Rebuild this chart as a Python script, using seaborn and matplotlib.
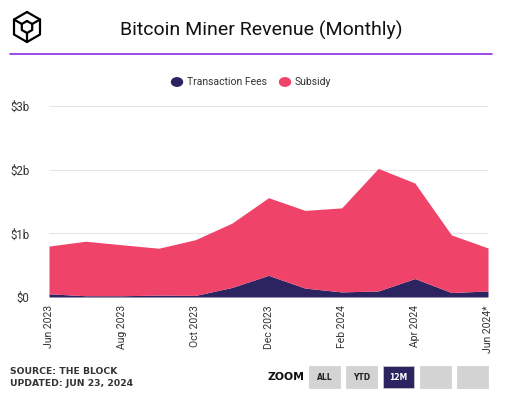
import numpy as np
import pandas as pd
import matplotlib.pyplot as plt
import seaborn as sns
from matplotlib.patches import Rectangle, Circle
from matplotlib.lines import Line2D

months = ["Jun 2023", "Jul 2023", "Aug 2023", "Sep 2023", "Oct 2023", "Nov 2023",
          "Dec 2023", "Jan 2024", "Feb 2024", "Mar 2024", "Apr 2024", "May 2024",
          "Jun 2024*"]
# billions USD
fees = [0.05, 0.02, 0.02, 0.03, 0.025, 0.15, 0.34, 0.14, 0.08, 0.095, 0.29, 0.07, 0.095]
total = [0.80, 0.876, 0.82, 0.766, 0.90, 1.16, 1.56, 1.36, 1.40, 2.02, 1.79, 0.975, 0.77]
subsidy = [t - f for t, f in zip(total, fees)]
tick_months = ["Jun 2023", "Aug 2023", "Oct 2023", "Dec 2023", "Feb 2024", "Apr 2024", "Jun 2024*"]
yticks = [0, 1, 2, 3]
ylabels = ["$0", "$1b", "$2b", "$3b"]

df = pd.DataFrame({"month": months, "Transaction Fees": fees, "Subsidy": subsidy})
df["x"] = np.arange(len(df))

FEES_C = "#2b2460"
SUB_C = "#f0436a"
TXT = "#333333"

sns.set_theme(style="white")
plt.rcParams["font.family"] = ["Roboto", "DejaVu Sans"]

W, H = 514, 394
fig = plt.figure(figsize=(W / 100, H / 100), dpi=100)
ax = fig.add_axes([49 / W, 1 - 297 / H, (488 - 49) / W, (297 - 106) / H])

ax.stackplot(df["x"], df["Transaction Fees"], df["Subsidy"],
             colors=[FEES_C, SUB_C], linewidth=0, zorder=2)
ax.set_xlim(0, len(df) - 1)
ax.set_ylim(0, 3)
ax.set_yticks(yticks)
ax.set_yticklabels(ylabels, fontsize=8.3, color=TXT)
ax.yaxis.grid(True, color="#e6e6e6", linewidth=0.8, zorder=0)
ax.xaxis.grid(False)
ax.set_xticks([months.index(m) for m in tick_months])
ax.set_xticklabels(tick_months, rotation=90, fontsize=7.5, color=TXT, va="top")
ax.tick_params(axis="x", length=2, width=0.6, color="#ccd6eb", pad=4)
ax.tick_params(axis="y", length=0, pad=14)
sns.despine(ax=ax, left=True, bottom=True, top=True, right=True)
ax.set_axisbelow(True)

# title and rule
fig.text(261 / W, 1 - 30 / H, "Bitcoin Miner Revenue (Monthly)", ha="center", va="center",
         fontsize=14, color="#111111")
fig.add_artist(Line2D([10 / W, 492 / W], [1 - 54 / H] * 2, color="#8a2be2", linewidth=1.2))

# logo
cx, cy, r = 27, 27, 15
ang = np.deg2rad(np.arange(90, 451, 60))
hx, hy = cx + r * np.cos(ang), cy - r * np.sin(ang)
fig.add_artist(Line2D(hx / W, 1 - hy / H, color="black", linewidth=1.6))
ri = 6
ix, iy = cx + ri * np.cos(ang), cy - ri * np.sin(ang)
fig.add_artist(Line2D(ix / W, 1 - iy / H, color="black", linewidth=1.6))
for k in [1, 3, 5]:
    fig.add_artist(Line2D([hx[k] / W, ix[k] / W], [1 - hy[k] / H, 1 - iy[k] / H],
                          color="black", linewidth=1.6))

# legend
for px, lab, c in [(177, "Transaction Fees", FEES_C), (285, "Subsidy", SUB_C)]:
    fig.add_artist(Circle((px / W, 1 - 82 / H), 5.5 / W, transform=fig.transFigure,
                          color=c))
    fig.text((px + 10) / W, 1 - 82 / H, lab, ha="left", va="center", fontsize=7.5, color=TXT)

# footer
fig.text(10 / W, 1 - 371 / H, "SOURCE: THE BLOCK", fontsize=6.7, fontweight="bold",
         color=TXT, va="center", family=["DejaVu Sans"])
fig.text(10 / W, 1 - 383 / H, "UPDATED: JUN 23, 2024", fontsize=6.7, fontweight="bold",
         color=TXT, va="center", family=["DejaVu Sans"])
fig.text(268 / W, 1 - 377 / H, "ZOOM", fontsize=7.8, fontweight="bold", color="#111111",
         va="center", family=["DejaVu Sans"])
buttons = ["ALL", "YTD", "12M", "", ""]
for i, b in enumerate(buttons):
    x0 = 309 + i * 37
    active = b == "12M"
    fig.add_artist(Rectangle((x0 / W, 1 - 388 / H), 31 / W, 22 / H,
                             transform=fig.transFigure,
                             facecolor=FEES_C if active else "#d3d3d3",
                             edgecolor="#cfcfcf", linewidth=0.5))
    if b:
        fig.text((x0 + 15.5) / W, 1 - 378 / H, b, ha="center", va="center", fontsize=5.5,
                 fontweight="bold", color="white" if active else "#222222",
                 family=["DejaVu Sans"])

fig.savefig("out.png", dpi=100)
